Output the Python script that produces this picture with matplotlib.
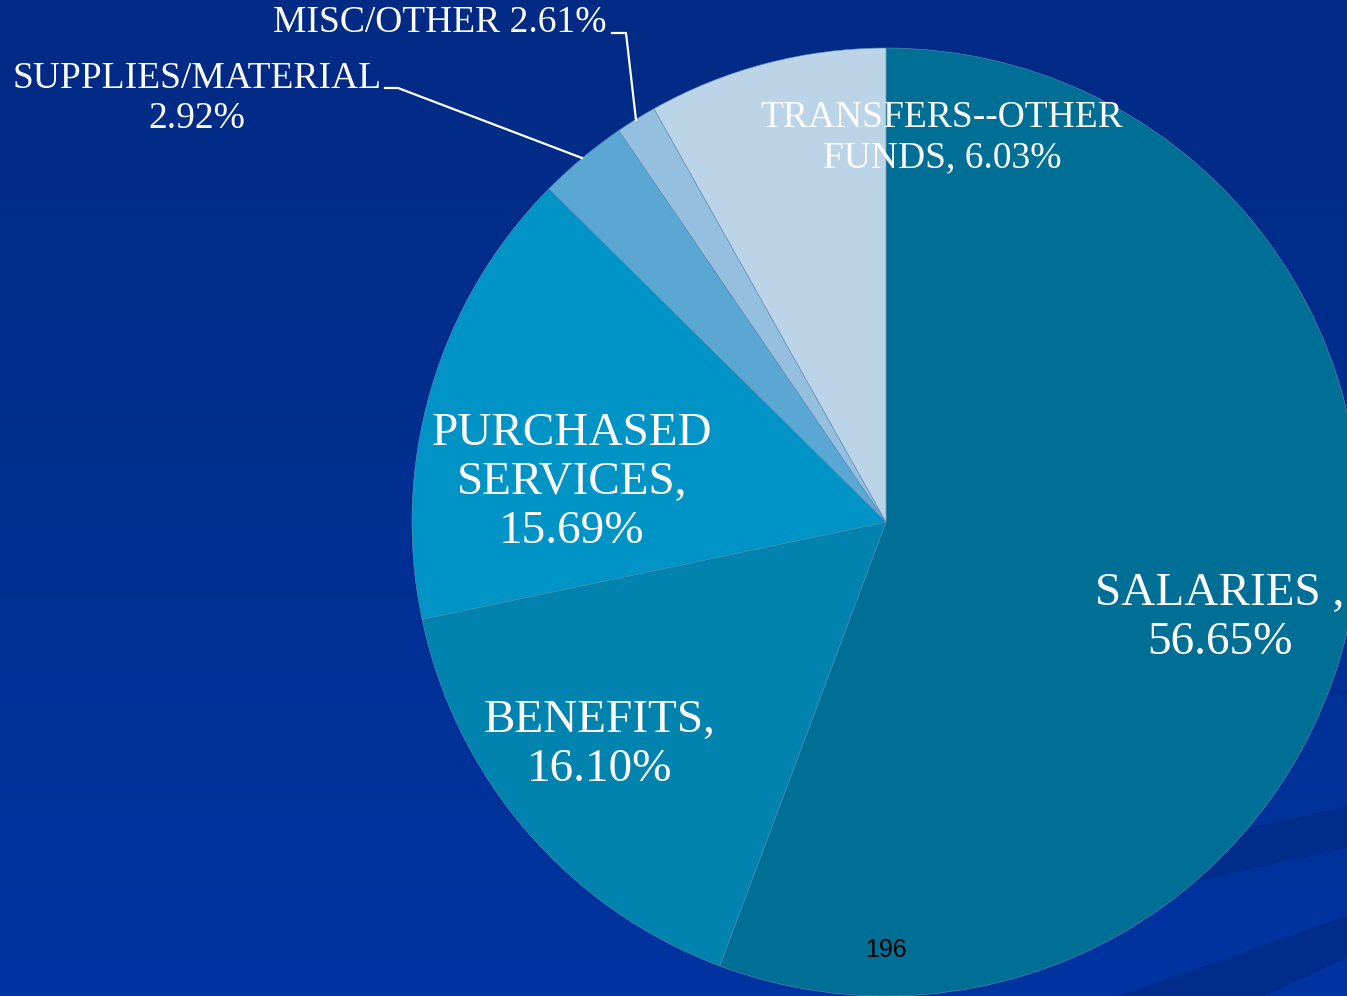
import numpy as np
import matplotlib
matplotlib.use("Agg")
import matplotlib.pyplot as plt

# slice sizes as drawn, labels as printed on the slide
categories = ["SALARIES", "BENEFITS", "PURCHASED SERVICES", "SUPPLIES/MATERIAL",
              "MISC/OTHER", "TRANSFERS--OTHER FUNDS"]
sizes = [55.7, 16.0, 15.7, 3.06, 1.39, 8.14]
label_pcts = ["56.65%", "16.10%", "15.69%", "2.92%", "2.61%", "6.03%"]
colors = ["#006f96", "#0083ae", "#0093c6", "#5aa7d3", "#95bfdf", "#bcd4e8"]

W, H = 1347, 996
fig = plt.figure(figsize=(W / 100, H / 100), dpi=100)
ax = fig.add_axes([0, 0, 1, 1])

# background gradient: darker navy at top, brighter blue at bottom
grad = np.linspace(0, 1, 256).reshape(-1, 1)
top = np.array([0x00, 0x2a, 0x84]) / 255
bot = np.array([0x00, 0x34, 0xa0]) / 255
img = top[None, None, :] * (1 - grad[:, :, None]) + bot[None, None, :] * grad[:, :, None]
img = np.repeat(img, 2, axis=1)
ax.imshow(img, extent=(0, W, 0, H), aspect="auto", zorder=0)

# decorative swooshes bottom right
swoosh = "#002d8c"
ax.fill([1000, W, W, 1000], [71, 149, 189, 114], color=swoosh, zorder=1)
ax.fill([1000, W, W, 1000], [-120, 39, 79, -42], color=swoosh, zorder=1)
ax.plot([1300, W], [318, 302], color="#002d8c", lw=2, zorder=1)

cx, cy, r = 886, H - 522, 474
wedges, _ = ax.pie(sizes, colors=colors, startangle=90, counterclock=False,
                   center=(cx, cy), radius=r, frame=True,
                   wedgeprops=dict(linewidth=0.4, edgecolor="#5f8fb8"))
for w in wedges:
    w.set_zorder(2)
ax.set_xlim(0, W)
ax.set_ylim(0, H)
ax.set_aspect("equal")
ax.axis("off")

serif = ["Liberation Serif", "DejaVu Serif"]
big = 34
txt = dict(color="white", family=serif, ha="center", va="center", zorder=5,
           linespacing=1.2)

ax.text(1220, H - 618, "SALARIES ,\n" + label_pcts[0], fontsize=big, **txt)
ax.text(600, H - 745, "BENEFITS,\n" + label_pcts[1], fontsize=big, **txt)
ax.text(572, H - 483, "PURCHASED\nSERVICES,\n" + label_pcts[2], fontsize=big, **txt)
ax.text(942, H - 138, "TRANSFERS--OTHER\nFUNDS, " + label_pcts[5], fontsize=27, **txt)
ax.text(197, H - 99, "SUPPLIES/MATERIAL\n" + label_pcts[3], fontsize=27, **txt)
ax.text(440, H - 23, "MISC/OTHER " + label_pcts[4], fontsize=27, **txt)

# leader lines
ax.plot([385, 398, 582], [H - 88, H - 88, H - 158], color="white", lw=1.6, zorder=4)
ax.plot([612, 626, 636], [H - 33, H - 33, H - 120], color="white", lw=1.6, zorder=4)

# page number
ax.text(886, H - 950, "196", color="black", family=["Liberation Sans", "DejaVu Sans"],
        fontsize=18, ha="center", va="center", zorder=5)

fig.savefig("out.png", dpi=100)
